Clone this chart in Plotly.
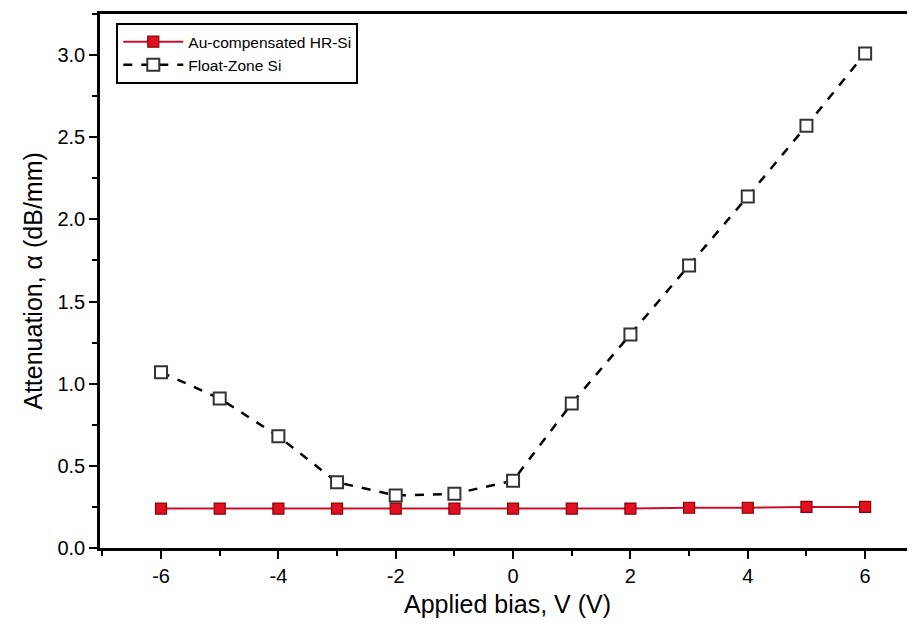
import plotly.graph_objects as go

bias = [-6, -5, -4, -3, -2, -1, 0, 1, 2, 3, 4, 5, 6]
au_hrsi = [0.24, 0.24, 0.24, 0.24, 0.24, 0.24, 0.24, 0.24, 0.24, 0.245, 0.245, 0.25, 0.25]
fz_si = [1.07, 0.91, 0.68, 0.40, 0.32, 0.33, 0.41, 0.88, 1.30, 1.72, 2.14, 2.57, 3.01]
x_ticks = [-6, -4, -2, 0, 2, 4, 6]
y_ticks = [0.0, 0.5, 1.0, 1.5, 2.0, 2.5, 3.0]

fig = go.Figure()
fig.add_trace(go.Scatter(
    x=bias, y=au_hrsi, mode="lines+markers", name="Au-compensated HR-Si",
    line=dict(color="#c8102e", width=2),
    marker=dict(symbol="square", size=11, color="#e01020", line=dict(color="#8b0000", width=1.2)),
))
fig.add_trace(go.Scatter(
    x=bias, y=fz_si, mode="lines+markers", name="Float-Zone Si",
    line=dict(color="black", width=2.5, dash="dash"),
    marker=dict(symbol="square", size=12, color="white", line=dict(color="#333333", width=2)),
))

font = "Liberation Sans, Arial, sans-serif"
fig.update_layout(
    width=907, height=618,
    margin=dict(l=92, r=0, t=6, b=78, autoexpand=False),
    paper_bgcolor="white", plot_bgcolor="white",
    font=dict(family=font, color="black"),
    showlegend=True,
    legend=dict(x=0.02, y=0.983, xanchor="left", yanchor="top",
                bordercolor="black", borderwidth=2, bgcolor="white",
                font=dict(size=15.5, family=font), tracegroupgap=0, itemwidth=60),
    xaxis=dict(
        range=[-7.04, 6.85], tickmode="array", tickvals=x_ticks,
        ticktext=[str(v) for v in x_ticks], automargin=False,
        showgrid=False, zeroline=False, showline=True, linecolor="black", linewidth=2.5,
        mirror=True, ticks="outside", ticklen=8, tickwidth=2, tickcolor="black",
        tickfont=dict(size=20),
        minor=dict(dtick=1, tick0=-7, ticks="outside", ticklen=5, tickwidth=2, tickcolor="black"),
        title=dict(text="Applied bias, V (V)", font=dict(size=25), standoff=10),
    ),
    yaxis=dict(
        range=[0, 3.25], tickmode="array", tickvals=y_ticks,
        ticktext=[f"{v:.1f}" for v in y_ticks], automargin=False,
        showgrid=False, zeroline=False, showline=True, linecolor="black", linewidth=2.5,
        mirror=False, ticks="outside", ticklen=8, tickwidth=2, tickcolor="black",
        tickfont=dict(size=20),
        minor=dict(dtick=0.25, tick0=0, ticks="outside", ticklen=5, tickwidth=2, tickcolor="black"),
        title=dict(text="Attenuation, \u03b1 (dB/mm)", font=dict(size=25), standoff=8),
    ),
)
fig.write_html("out.html")
